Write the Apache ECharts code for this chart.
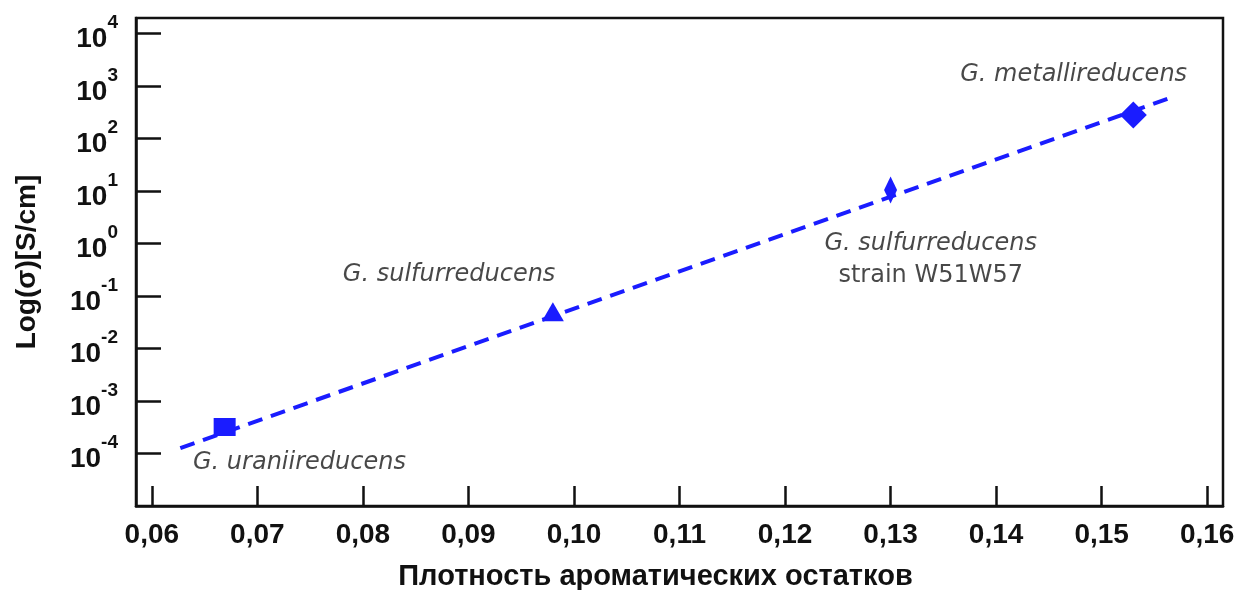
<!DOCTYPE html>
<html><head><meta charset="utf-8">
<script src="https://cdn.jsdelivr.net/npm/echarts@6/dist/echarts.min.js"></script>
<style>html,body{margin:0;padding:0;background:#fff}#c{width:1245px;height:590px}</style>
</head><body><div id="c"></div>
<script>
// Data
const species = ['G. uraniireducens', 'G. sulfurreducens', 'G. sulfurreducens strain W51W57', 'G. metallireducens'];
const aromaticDensity = [0.0669, 0.098, 0.130, 0.153];
const conductivity = [3.2e-4, 0.05, 10.5, 280];          // S/cm
const fitX = [0.0627, 0.1567];
const fitConductivity = [1.27e-4, 617];                  // S/cm at fitX
const xTicks = [0.06, 0.07, 0.08, 0.09, 0.10, 0.11, 0.12, 0.13, 0.14, 0.15, 0.16];
const yTickExponents = [-4, -3, -2, -1, 0, 1, 2, 3, 4];
// annotation anchors [x, log10(sigma)]
const annoX = [0.0639, 0.0781, 0.1338, 0.1366];
const annoLogY = [-4.18, -0.6, -0.314, 3.21];

const blue = '#1a1cff';
const symbols = ['rect', 'triangle', 'diamond', 'diamond'];
const symbolSizes = [[22, 18], [22, 19], [13, 27], [27, 27]];

const chart = echarts.init(document.getElementById('c'));
const pts = aromaticDensity.map((x, i) => ({
  value: [x, Math.log10(conductivity[i])],
  symbol: symbols[i], symbolSize: symbolSizes[i]
}));
const annoAlign = ['left', 'left', 'center', 'left'];
const anno = species.map((s, i) => {
  let text;
  if (i === 2) text = '{i|G. sulfurreducens}\n{n|strain W51W57}';
  else text = '{i|' + s + '}';
  return {
    value: [annoX[i], annoLogY[i]],
    label: { show: true, formatter: text, position: annoAlign[i] === 'center' ? 'inside' : 'right', distance: 0, align: annoAlign[i] }
  };
});

chart.setOption({
  animation: false,
  backgroundColor: '#fff',
  grid: { left: 136, right: 22, top: 18, bottom: 84, containLabel: false, outerBoundsMode: 'none',
    show: true, borderColor: '#111', borderWidth: 2.5, backgroundColor: 'transparent' },
  xAxis: {
    type: 'value', min: 0.0585, max: 0.1615,
    name: 'Плотность ароматических остатков', nameLocation: 'middle', nameGap: 56,
    nameTextStyle: { fontFamily: 'Liberation Sans', fontWeight: 'bold', fontSize: 29, color: '#111', padding: [0, 48, 0, 0] },
    axisLine: { show: true, onZero: false, lineStyle: { color: '#111', width: 2.5 } },
    axisTick: { show: true, inside: true, length: 20, lineStyle: { color: '#111', width: 2.5 }, customValues: xTicks },
    axisLabel: { customValues: xTicks, margin: 15, fontFamily: 'Liberation Sans', fontWeight: 'bold', fontSize: 28, color: '#111',
      formatter: v => v.toFixed(2).replace('.', ',') },
    splitLine: { show: false }
  },
  yAxis: {
    type: 'value', min: -5, max: 4.295,
    name: 'Log(σ)[S/cm]', nameLocation: 'middle', nameGap: 95, nameRotate: 90,
    nameTextStyle: { fontFamily: 'Liberation Sans', fontWeight: 'bold', fontSize: 28, color: '#111' },
    axisLine: { show: true, onZero: false, lineStyle: { color: '#111', width: 2.5 } },
    axisTick: { show: true, inside: true, length: 25, lineStyle: { color: '#111', width: 2.5 }, customValues: yTickExponents },
    axisLabel: { customValues: yTickExponents, margin: 18, color: '#111',
      formatter: v => '{b|10}{s|' + Math.round(v) + '}',
      rich: {
        b: { fontFamily: 'Liberation Sans', fontWeight: 'bold', fontSize: 28, lineHeight: 40, verticalAlign: 'bottom', color: '#111' },
        s: { fontFamily: 'Liberation Sans', fontWeight: 'bold', fontSize: 19, lineHeight: 19, verticalAlign: 'top', color: '#111' }
      } },
    splitLine: { show: false }
  },
  series: [
    { type: 'line', data: fitX.map((x, i) => [x, Math.log10(fitConductivity[i])]), symbol: 'none',
      lineStyle: { color: blue, width: 4, type: [15, 9] }, z: 2 },
    { type: 'scatter', data: pts, itemStyle: { color: blue, opacity: 1 }, z: 3 },
    { type: 'scatter', data: anno, symbolSize: 0, z: 4, silent: true,
      label: { color: '#1a1a1a',
        rich: {
          i: { fontFamily: 'DejaVu Sans', fontStyle: 'italic', fontSize: 24, lineHeight: 32, color: '#1a1a1a' },
          n: { fontFamily: 'DejaVu Sans', fontSize: 24, lineHeight: 32, color: '#1a1a1a' }
        } } }
  ]
});
</script></body></html>
